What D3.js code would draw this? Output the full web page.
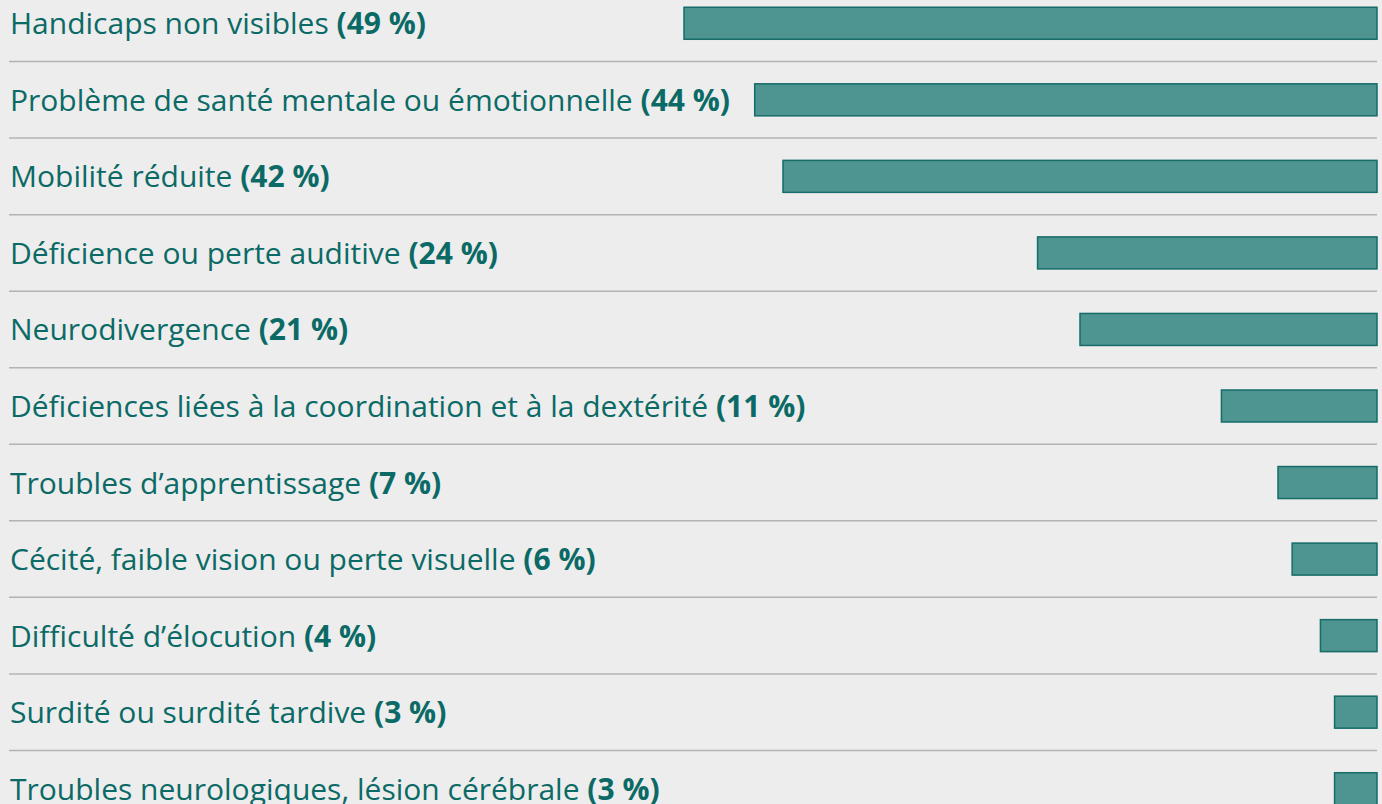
<!DOCTYPE html>
<html>
<head>
<meta charset="utf-8">
<script src="https://cdn.jsdelivr.net/npm/d3@7"></script>
<style>
  body { margin: 0; background: #ededed; }
  .label { font-family: "Open Sans", sans-serif; fill: #0b6a66; }
  .label .pct { font-weight: 700; }
</style>
</head>
<body>
<svg class="graph"></svg>
<script>
let width = 1382,
    height = 804;

let categories = [
    "Handicaps non visibles",
    "Problème de santé mentale ou émotionnelle",
    "Mobilité réduite",
    "Déficience ou perte auditive",
    "Neurodivergence",
    "Déficiences liées à la coordination et à la dextérité",
    "Troubles d’apprentissage",
    "Cécité, faible vision ou perte visuelle",
    "Difficulté d’élocution",
    "Surdité ou surdité tardive",
    "Troubles neurologiques, lésion cérébrale"
]
let values = [49, 44, 42, 24, 21, 11, 7, 6, 4, 3, 3]

let font_size = "30px"

let svg = d3.select(".graph")
    .attr("width", width)
    .attr("height", height)

// rows: one band per category, ~76.6px apart
var y = d3.scaleBand()
    .domain(categories)
    .range([-15, 827])
    .paddingInner(0)

// bars grow leftwards from the right edge
let right = 1377
var x = d3.scaleLinear()
    .domain([0, 49])
    .range([0, 693])

let row = svg.selectAll(".row")
    .data(categories)
    .enter().append("g")
    .attr("class", "row")
    .attr("transform", d => "translate(0," + y(d) + ")")

row.append("rect")
    .attr("x", (d, i) => right - x(values[i]))
    .attr("y", y.bandwidth() / 2 - 16)
    .attr("width", (d, i) => x(values[i]))
    .attr("height", 32)
    .attr("fill", "#4e9490")
    .attr("stroke", "#156c68")
    .attr("stroke-width", 1.5)

// separator under each row except the last
row.filter((d, i) => i < categories.length - 1)
    .append("line")
    .attr("x1", 9)
    .attr("x2", right)
    .attr("y1", y.bandwidth())
    .attr("y2", y.bandwidth())
    .attr("stroke", "#b3b3b3")
    .attr("stroke-width", 1.5)

let label = row.append("text")
    .attr("class", "label")
    .attr("x", 10)
    .attr("y", y.bandwidth() / 2 + 11)
    .style("font-size", font_size)

label.append("tspan").text(d => d + " ")
label.append("tspan").attr("class", "pct").text((d, i) => "(" + values[i] + " %)")
</script>
</body>
</html>
